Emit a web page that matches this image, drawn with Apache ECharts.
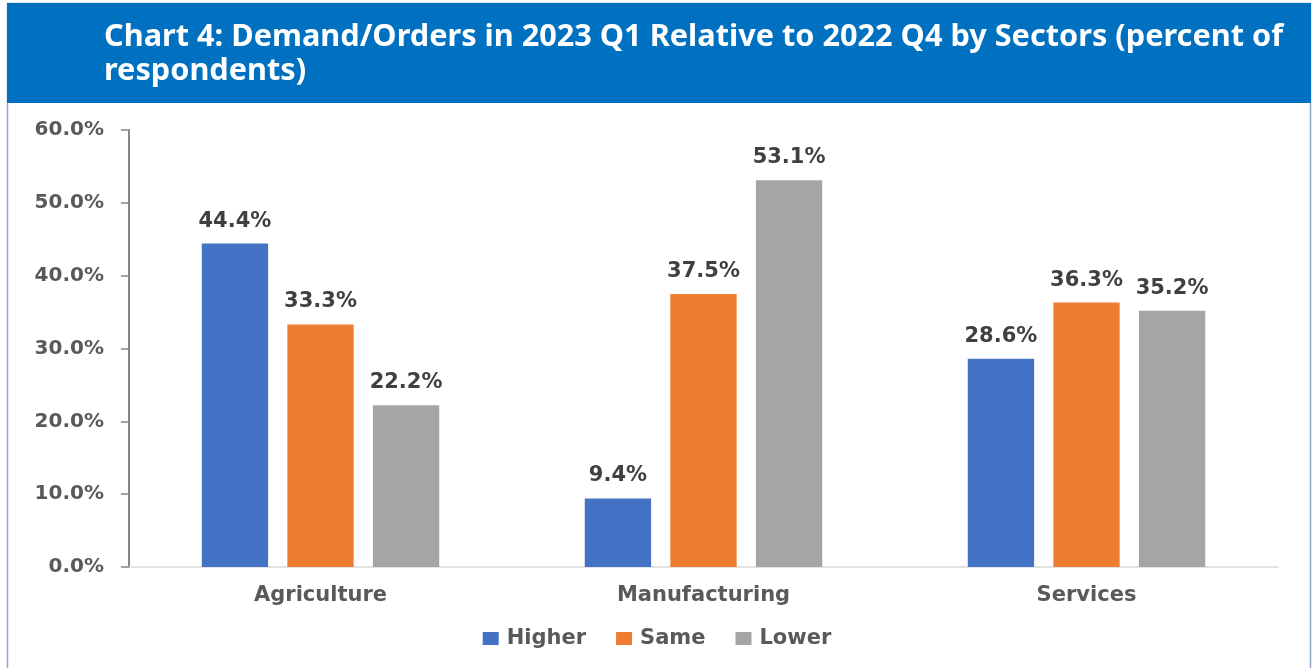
<!DOCTYPE html>
<html>
<head>
<meta charset="utf-8">
<script src="https://cdn.jsdelivr.net/npm/echarts@6/dist/echarts.min.js"></script>
<style>
  html, body { margin: 0; padding: 0; background: #fff; }
  #chart { width: 1314px; height: 668px; }
</style>
</head>
<body>
<div id="chart"></div>
<script>
// data
var sectors = ['Agriculture', 'Manufacturing', 'Services'];
var higher = [44.4, 9.4, 28.6];
var same = [33.3, 37.5, 36.3];
var lower = [22.2, 53.1, 35.2];
var seriesNames = ['Higher', 'Same', 'Lower'];
var colors = ['#4472C4', '#ED7D31', '#A5A5A5'];

var chart = echarts.init(document.getElementById('chart'));

var labelFont = 'DejaVu Sans';

function barSeries(name, values, color) {
  return {
    name: name,
    type: 'bar',
    data: values,
    barGap: '29%',
    barCategoryGap: '38%',
    itemStyle: { color: color },
    label: {
      show: true,
      position: 'top',
      distance: 12,
      formatter: function (p) { return p.value.toFixed(1) + '%'; },
      color: '#404040',
      fontFamily: labelFont,
      fontWeight: 'bold',
      fontSize: 21
    }
  };
}

chart.setOption({
  animation: false,
  color: colors,
  graphic: [
    {
      type: 'rect',
      shape: { x: 7.5, y: 3.5, width: 1303, height: 700 },
      style: { fill: '#fff', stroke: '#8FA7C9', lineWidth: 1.5 },
      z: -10
    },
    {
      type: 'rect',
      shape: { x: 7, y: 3, width: 1304, height: 100 },
      style: { fill: '#0070C0' },
      z: -9
    }
  ],
  title: {
    text: 'Chart 4: Demand/Orders in 2023 Q1 Relative to 2022 Q4 by Sectors (percent of\nrespondents)',
    left: 99,
    top: 15,
    textStyle: {
      color: '#fff',
      fontFamily: 'Noto Sans',
      fontWeight: 'bold',
      fontSize: 30.7,
      lineHeight: 34
    }
  },
  legend: {
    data: seriesNames,
    bottom: 14,
    left: 'center',
    icon: 'rect',
    itemWidth: 16,
    itemHeight: 13,
    itemGap: 30,
    textStyle: {
      color: '#595959',
      fontFamily: labelFont,
      fontWeight: 'bold',
      fontSize: 21,
      padding: [0, 0, 0, 3]
    }
  },
  grid: { left: 129, right: 36, top: 130, bottom: 101, containLabel: false },
  xAxis: {
    type: 'category',
    data: sectors,
    axisLine: { lineStyle: { color: '#D9D9D9', width: 1.5 } },
    axisTick: { show: false },
    axisLabel: {
      color: '#595959',
      fontFamily: labelFont,
      fontWeight: 'bold',
      fontSize: 21,
      margin: 18
    }
  },
  yAxis: {
    type: 'value',
    min: 0,
    max: 60,
    interval: 10,
    splitLine: { show: false },
    axisLine: { show: true, lineStyle: { color: '#868686', width: 2 } },
    axisTick: { show: true, length: 8, lineStyle: { color: '#868686', width: 1.5 } },
    axisLabel: {
      color: '#595959',
      fontFamily: labelFont,
      fontWeight: 'bold',
      fontSize: 20,
      margin: 25,
      formatter: function (v) { return v.toFixed(1) + '%'; }
    }
  },
  series: [
    barSeries(seriesNames[0], higher, colors[0]),
    barSeries(seriesNames[1], same, colors[1]),
    barSeries(seriesNames[2], lower, colors[2])
  ]
});
</script>
</body>
</html>
